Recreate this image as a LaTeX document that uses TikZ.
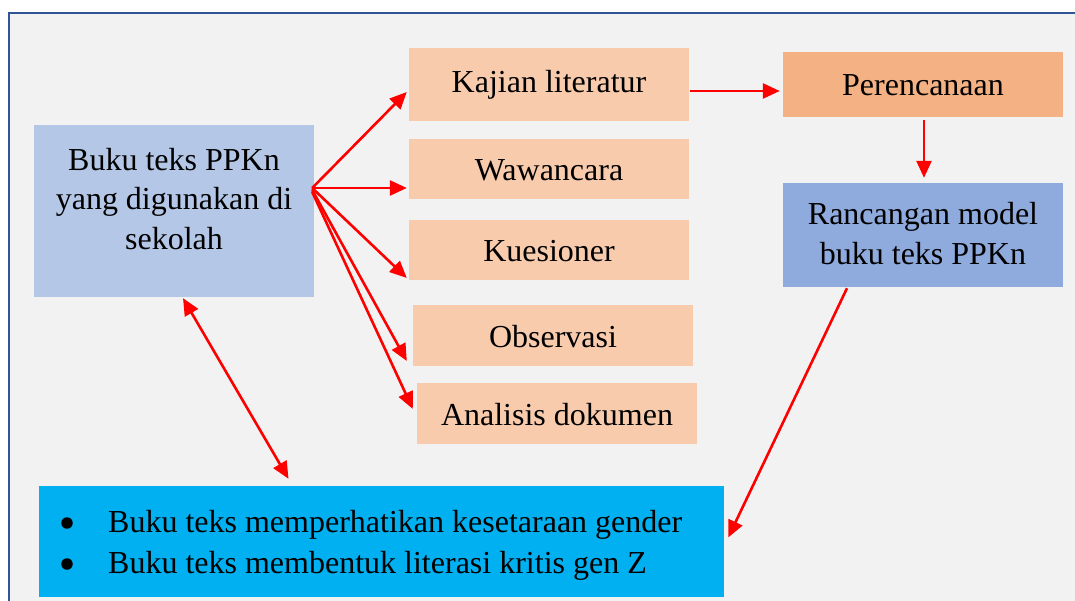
\documentclass[tikz,border=0pt]{standalone}
\usepackage{fontspec}
\setmainfont{Liberation Serif}
\usetikzlibrary{arrows.meta,calc}
\definecolor{frameblue}{HTML}{2F5597}
\definecolor{panel}{HTML}{F2F2F2}
\definecolor{bookblue}{HTML}{B4C7E7}
\definecolor{peach}{HTML}{F8CBAD}
\definecolor{apricot}{HTML}{F4B183}
\definecolor{modelblue}{HTML}{8FAADC}
\definecolor{resultcyan}{HTML}{00B0F0}
\begin{document}
\begin{tikzpicture}[x=1pt,y=-1pt,
  every node/.style={font=\fontsize{32}{39.5}\selectfont, inner sep=0pt},
  card/.style={rectangle, minimum width=280pt, text height=24pt, text depth=1pt},
  method/.style={card, fill=peach},
  twoline/.style={align=center, execute at begin node={\rule{0pt}{22pt}}, execute at end node={\rule[-7pt]{0pt}{7pt}}},
  dot/.style={circle, fill=black, minimum size=11.5pt},
  link/.style={draw=red, line width=2.6pt, -{Triangle[length=17pt,width=15pt]}},
  biglink/.style={draw=red, line width=2.6pt, {Triangle[length=17pt,width=15pt]}-{Triangle[length=17pt,width=15pt]}}]
\useasboundingbox (0,0) rectangle (1075,601);
% page frame and panel
\fill[white] (0,0) rectangle (1075,601);
\fill[panel] (9,13) rectangle (1075,601);
\draw[frameblue, line width=2.2pt] (9,601) -- (9,13) -- (1075,13);

% source book
\node[rectangle, fill=bookblue, minimum width=280pt, minimum height=172pt] (buku) at (174,211) {};
\node[twoline] (bukutxt) at (174,202) {Buku teks PPKn\\yang digunakan di\\sekolah};

% data collection methods
\node[method, minimum height=73pt, text depth=7pt] (kajian) at (549,84.5) {Kajian literatur};
\node[method, minimum height=60pt] (wawan) at (549,169) {Wawancara};
\node[method, minimum height=60pt] (kues) at (549,250) {Kuesioner};
\node[method, minimum height=61pt] (obs) at (553,335.5) {Observasi};
\node[method, minimum height=61pt] (anal) at (557,413.5) {Analisis dokumen};

% planning and model
\node[card, fill=apricot, minimum height=65pt] (peren) at (923,84.5) {Perencanaan};
\node[rectangle, fill=modelblue, minimum width=280pt, minimum height=104pt] (ranc) at (923,235) {};
\node[twoline] (ranctxt) at (923,237) {Rancangan model\\buku teks PPKn};

% outcome
\node[rectangle, fill=resultcyan, minimum width=685pt, minimum height=111pt] (hasil) at (381.5,541.5) {};
\node[dot] (b1) at (67,523) {};
\node[anchor=base west] (t1) at (108,532) {Buku teks memperhatikan kesetaraan gender};
\node[dot] (b2) at (67,564) {};
\node[anchor=base west] (t2) at (108,573) {Buku teks membentuk literasi kritis gen Z};

% connectors
\coordinate (fan) at ($(buku.east)+(-2,-23)$);
\draw[link] (fan) -- ($(kajian.west)+(-2,7.5)$);
\draw[link] (fan) -- ($(wawan.west)+(-2,19)$);
\draw[link] (fan) -- ($(kues.west)+(-2,28)$);
\draw[link] ($(fan)+(0,2)$) -- ($(obs.west)+(-6,25.5)$);
\draw[link] ($(fan)+(0,4)$) -- ($(anal.west)+(-4,-4.5)$);
\draw[link] ($(kajian.east)+(1,6.5)$) -- ($(peren.west)+(-3,6.5)$);
\draw[link] ($(peren.south)+(1,3)$) -- ($(ranc.north)+(1,-5)$);
\draw[link] ($(ranc.south)+(-76,1)$) -- ($(hasil.east)+(4,-4)$);
\draw[biglink] ($(buku.south)+(9,1)$) -- ($(hasil.north)+(-93,-7)$);
\end{tikzpicture}
\end{document}
